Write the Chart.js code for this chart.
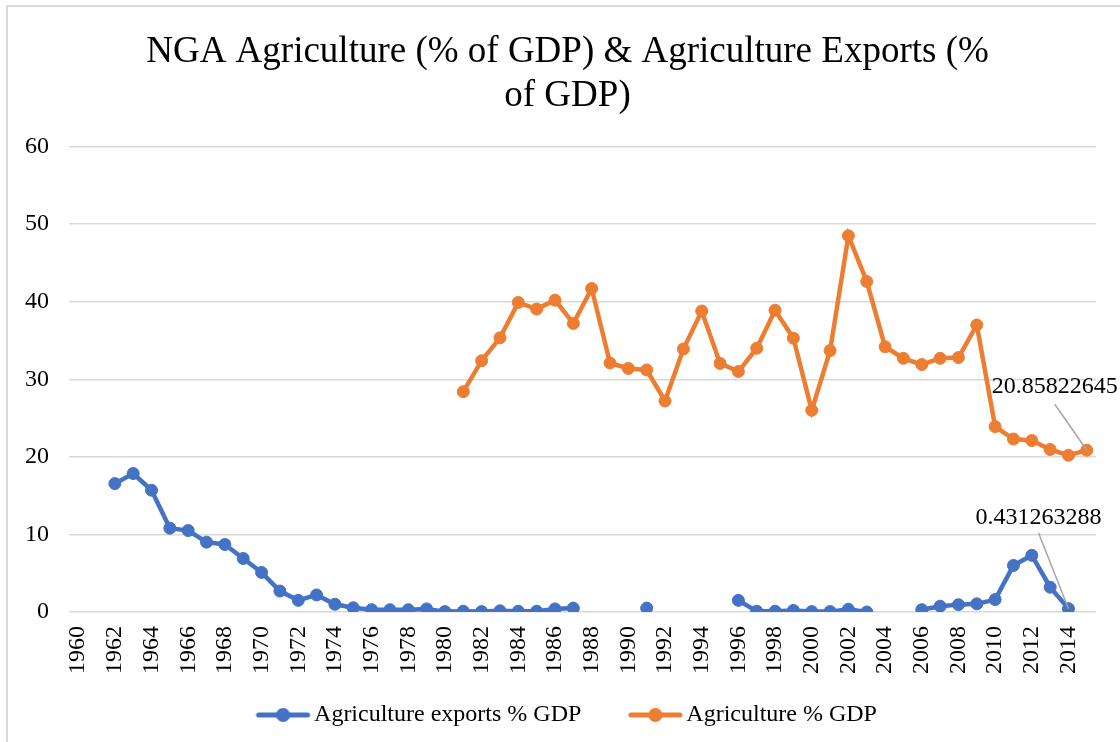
<!DOCTYPE html>
<html>
<head>
<meta charset="utf-8">
<title>NGA Agriculture</title>
<script src="https://cdn.jsdelivr.net/npm/chart.js@4.4.0/dist/chart.umd.min.js"></script>
<style>
  html, body { margin: 0; padding: 0; background: #fff; overflow: hidden; }
  #frame { position: absolute; left: 6px; top: 5px; width: 1300px; height: 900px;
           border-left: 2px solid #d9d9d9; border-top: 2px solid #d9d9d9; }
  #wrap { position: absolute; left: 0; top: 0; width: 1120px; height: 742px; }
</style>
</head>
<body>
<div id="frame"></div>
<div id="wrap"><canvas id="agriChart"></canvas></div>
<script>
const years = [
  1960, 1961, 1962, 1963, 1964, 1965, 1966, 1967, 1968, 1969,
  1970, 1971, 1972, 1973, 1974, 1975, 1976, 1977, 1978, 1979,
  1980, 1981, 1982, 1983, 1984, 1985, 1986, 1987, 1988, 1989,
  1990, 1991, 1992, 1993, 1994, 1995, 1996, 1997, 1998, 1999,
  2000, 2001, 2002, 2003, 2004, 2005, 2006, 2007, 2008, 2009,
  2010, 2011, 2012, 2013, 2014, 2015,
];

// agriculture exports, % of GDP (null = no data for that year)
const exportsGdp = [
  null, null, 16.55, 17.85, 15.7, 10.8, 10.5, 9.0, 8.7, 6.9,
  5.1, 2.7, 1.5, 2.2, 1.0, 0.55, 0.3, 0.3, 0.3, 0.4,
  0.05, 0.1, 0.05, 0.15, 0.1, 0.1, 0.4, 0.5, null, null,
  null, 0.5, null, null, null, null, 1.5, 0.1, 0.1, 0.2,
  0.05, 0.05, 0.35, 0.0, null, null, 0.3, 0.75, 0.95, 1.05,
  1.6, 6.0, 7.3, 3.2, 0.431263288, null,
];

// agriculture, % of GDP
const agricultureGdp = [
  null, null, null, null, null, null, null, null, null, null,
  null, null, null, null, null, null, null, null, null, null,
  null, 28.4, 32.4, 35.35, 39.9, 39.05, 40.2, 37.2, 41.7, 32.1,
  31.4, 31.2, 27.2, 33.9, 38.8, 32.05, 31.0, 34.0, 38.9, 35.3,
  26.0, 33.7, 48.5, 42.6, 34.2, 32.7, 31.9, 32.7, 32.8, 37.0,
  23.9, 22.3, 22.1, 20.95, 20.2, 20.85822645,
];

const yTicks = [0, 10, 20, 30, 40, 50, 60];

const BLUE = "#4472c4";
const ORANGE = "#ed7d31";
const SERIF = "'Liberation Serif', 'Times New Roman', serif";

// line-with-marker swatch for the legend
function legendIcon(color, boxW) {
  const c = document.createElement("canvas");
  c.width = boxW + 19;
  c.height = 16;
  const g = c.getContext("2d");
  const right = c.width - 1;
  const left = right - 55;
  g.strokeStyle = color;
  g.lineWidth = 5;
  g.lineCap = "round";
  g.beginPath();
  g.moveTo(left + 3, 8);
  g.lineTo(right - 3, 8);
  g.stroke();
  g.fillStyle = color;
  g.beginPath();
  g.arc((left + right) / 2, 8, 7, 0, Math.PI * 2);
  g.fill();
  return c;
}

const LEGEND_BOX = 78;
const TITLE_SHIFT = 17;

// value callouts on the last points, with a grey leader line
const callouts = [
  { dataset: 0, index: 54, dx: -30, dy: -91, gap: 15 },
  { dataset: 1, index: 55, dx: -32, dy: -63, gap: 17 },
];

const calloutPlugin = {
  id: "callouts",
  afterLayout(chart) {
    // title sits a bit right of the canvas centre
    if (chart.titleBlock) {
      chart.titleBlock.left += TITLE_SHIFT;
      chart.titleBlock.right += TITLE_SHIFT;
    }
  },
  afterDatasetsDraw(chart) {
    const ctx = chart.ctx;
    callouts.forEach(function (c) {
      const pt = chart.getDatasetMeta(c.dataset).data[c.index];
      const value = chart.data.datasets[c.dataset].data[c.index];
      const tx = pt.x + c.dx;
      const ty = pt.y + c.dy;
      ctx.save();
      ctx.strokeStyle = "#a6a6a6";
      ctx.lineWidth = 1.5;
      ctx.beginPath();
      ctx.moveTo(tx, ty + c.gap);
      ctx.lineTo(pt.x, pt.y);
      ctx.stroke();
      ctx.font = "24px " + SERIF;
      ctx.fillStyle = "#000";
      ctx.textAlign = "center";
      ctx.textBaseline = "middle";
      ctx.fillText(String(value), tx, ty);
      ctx.restore();
    });
  },
};

const ctx = document.getElementById("agriChart");
new Chart(ctx, {
  type: "line",
  data: {
    labels: years,
    datasets: [
      {
        label: "Agriculture exports % GDP",
        data: exportsGdp,
        borderColor: BLUE,
        backgroundColor: BLUE,
        borderWidth: 4.5,
        pointRadius: 6,
        pointBorderWidth: 1,
        spanGaps: false,
      },
      {
        label: "Agriculture % GDP",
        data: agricultureGdp,
        borderColor: ORANGE,
        backgroundColor: ORANGE,
        borderWidth: 4.5,
        pointRadius: 6,
        pointBorderWidth: 1,
        spanGaps: false,
      },
    ],
  },
  options: {
    responsive: true,
    maintainAspectRatio: false,
    animation: false,
    layout: { padding: { left: 5, right: 24, top: 0, bottom: 5 } },
    plugins: {
      title: {
        display: true,
        text: ["NGA Agriculture (% of GDP) & Agriculture Exports (%", "of GDP)"],
        color: "#000",
        font: { family: SERIF, size: 37, weight: "normal", lineHeight: 1.17 },
        padding: { top: 31, bottom: 29 },
      },
      legend: {
        position: "bottom",
        labels: {
          usePointStyle: true,
          pointStyleWidth: LEGEND_BOX,
          padding: 15,
          color: "#000",
          font: { family: SERIF, size: 24 },
          generateLabels: function (chart) {
            const items = Chart.defaults.plugins.legend.labels.generateLabels(chart);
            items.forEach(function (item, i) {
              item.pointStyle = legendIcon(i === 0 ? BLUE : ORANGE, LEGEND_BOX);
            });
            return items;
          },
        },
      },
      tooltip: { enabled: false },
    },
    scales: {
      x: {
        offset: true,
        grid: { display: false, drawTicks: false },
        border: { display: false },
        afterFit: function (axis) {
          axis.paddingLeft = 0;
          axis.paddingRight = 0;
        },
        ticks: {
          autoSkip: false,
          minRotation: 90,
          maxRotation: 90,
          padding: 14,
          color: "#000",
          font: { family: SERIF, size: 24 },
          callback: function (value, index) {
            return index % 2 === 0 ? years[index] : "";
          },
        },
      },
      y: {
        min: yTicks[0],
        max: yTicks[yTicks.length - 1],
        afterBuildTicks: function (axis) {
          axis.ticks = yTicks.map(function (v) { return { value: v }; });
        },
        grid: { color: "#d9d9d9", lineWidth: 1.5, drawTicks: false },
        border: { display: false },
        ticks: {
          padding: 20,
          color: "#000",
          font: { family: SERIF, size: 24 },
        },
      },
    },
  },
  plugins: [calloutPlugin],
});
</script>
</body>
</html>
